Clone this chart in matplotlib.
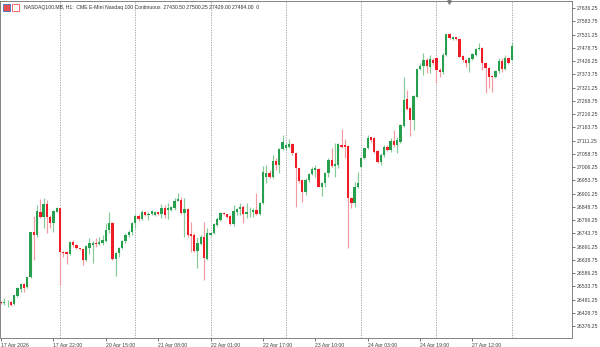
import matplotlib
matplotlib.use("Agg")
import matplotlib.pyplot as plt
from matplotlib.patches import Rectangle
import numpy as np

plt.rcParams['font.family'] = ['Liberation Sans', 'DejaVu Sans']

# NASDAQ100.MB H1 candles
opens = [26471, 26467, 26470, 26473, 26462, 26496, 26523, 26542, 26530, 26569,
         26748, 26737, 26829, 26807, 26860, 26810, 26786, 26829, 26843, 26671,
         26670, 26662, 26710, 26697, 26684, 26680, 26638, 26686, 26697, 26704,
         26700, 26705, 26713, 26757, 26786, 26641, 26664, 26686, 26713, 26737,
         26749, 26783, 26813, 26799, 26828, 26817, 26820, 26816, 26827, 26822,
         26845, 26836, 26836, 26843, 26872, 26876, 26823, 26839, 26740, 26737,
         26675, 26701, 26730, 26641, 26737, 26744, 26777, 26796, 26825, 26819,
         26812, 26779, 26829, 26839, 26849, 26820, 26827, 26827, 26836, 26820,
         26863, 26968, 26981, 26966, 27031, 27014, 27077, 27080, 27087, 27096,
         27061, 27001, 26954, 26909, 26954, 26977, 26995, 26997, 26928, 26942,
         26981, 27034, 27010, 27014, 27094, 27094, 27090, 26882, 26863, 26926,
         27008, 27041, 27080, 27124, 27120, 27070, 27027, 27054, 27087, 27074,
         27109, 27094, 27107, 27169, 27275, 27239, 27193, 27285, 27393, 27407,
         27430, 27404, 27430, 27440, 27391, 27381, 27450, 27532, 27514, 27520,
         27512, 27446, 27430, 27420, 27433, 27450, 27472, 27478, 27420, 27399,
         27367, 27362, 27388, 27426, 27393, 27438, 27430.5]
highs = [26475, 26487, 26479, 26477, 26500, 26531, 26546, 26546, 26570, 26750,
         26812, 26856, 26880, 26882, 26876, 26816, 26836, 26848, 26844, 26675,
         26674, 26713, 26717, 26701, 26687, 26683, 26697, 26726, 26713, 26726,
         26730, 26737, 26783, 26829, 26788, 26671, 26691, 26717, 26744, 26757,
         26790, 26820, 26820, 26836, 26832, 26828, 26836, 26832, 26830, 26860,
         26856, 26863, 26852, 26882, 26902, 26889, 26884, 26844, 26790, 26745,
         26730, 26737, 26790, 26765, 26749, 26785, 26808, 26829, 26829, 26822,
         26816, 26856, 26843, 26863, 26856, 26863, 26849, 26843, 26902, 26869,
         27010, 27014, 26995, 27054, 27041, 27080, 27133, 27101, 27116, 27100,
         27063, 27004, 26956, 26962, 26983, 27008, 27014, 27001, 26948, 26988,
         27041, 27080, 27100, 27100, 27156, 27116, 27094, 26889, 26948, 26988,
         27047, 27083, 27133, 27126, 27126, 27074, 27061, 27094, 27094, 27120,
         27153, 27126, 27177, 27362, 27311, 27245, 27292, 27397, 27417, 27459,
         27437, 27450, 27437, 27443, 27397, 27457, 27535, 27536, 27527, 27523,
         27516, 27450, 27433, 27441, 27457, 27477, 27496, 27482, 27424, 27401,
         27371, 27391, 27437, 27437, 27450, 27442, 27500.25]
lows = [26462, 26460, 26452, 26456, 26460, 26492, 26512, 26512, 26527, 26566,
        26638, 26730, 26804, 26763, 26745, 26765, 26749, 26828, 26539, 26651,
        26622, 26658, 26691, 26680, 26678, 26618, 26634, 26662, 26626, 26691,
        26697, 26697, 26708, 26744, 26638, 26576, 26651, 26682, 26704, 26730,
        26737, 26765, 26792, 26796, 26812, 26796, 26816, 26812, 26816, 26803,
        26803, 26799, 26832, 26836, 26870, 26822, 26730, 26729, 26671, 26670,
        26606, 26697, 26559, 26638, 26733, 26741, 26773, 26792, 26816, 26806,
        26777, 26774, 26816, 26816, 26783, 26803, 26810, 26810, 26816, 26816,
        26860, 26942, 26962, 26962, 26995, 26981, 27074, 27074, 27082, 27054,
        26849, 26943, 26867, 26895, 26947, 26975, 26968, 26926, 26891, 26928,
        26968, 27008, 26968, 27002, 27080, 27041, 26684, 26843, 26849, 26922,
        27005, 27038, 27077, 27107, 27061, 27023, 27014, 27047, 27070, 27067,
        27087, 27063, 27103, 27166, 27232, 27129, 27153, 27284, 27391, 27371,
        27380, 27378, 27411, 27338, 27364, 27374, 27448, 27512, 27508, 27508,
        27441, 27421, 27404, 27384, 27430, 27447, 27470, 27391, 27298, 27318,
        27305, 27359, 27378, 27384, 27391, 27414, 27429]
closes = [26466, 26473, 26473, 26460, 26498, 26527, 26542, 26526, 26569, 26748,
          26737, 26832, 26807, 26860, 26810, 26786, 26832, 26843, 26671, 26664,
          26662, 26710, 26697, 26684, 26680, 26638, 26693, 26704, 26704, 26700,
          26708, 26717, 26757, 26786, 26641, 26664, 26687, 26713, 26737, 26750,
          26783, 26813, 26799, 26828, 26817, 26822, 26832, 26829, 26820, 26845,
          26816, 26843, 26847, 26873, 26878, 26823, 26839, 26737, 26733, 26675,
          26704, 26730, 26645, 26745, 26746, 26779, 26800, 26823, 26819, 26810,
          26779, 26832, 26840, 26849, 26820, 26829, 26830, 26836, 26820, 26865,
          26987, 26981, 26968, 27031, 27014, 27077, 27107, 27094, 27096, 27061,
          27001, 26951, 26909, 26955, 26977, 26997, 27001, 26928, 26944, 26984,
          27034, 27010, 27018, 27098, 27087, 27087, 26882, 26863, 26926, 26942,
          27043, 27080, 27120, 27113, 27067, 27027, 27054, 27087, 27074, 27109,
          27094, 27113, 27173, 27272, 27235, 27193, 27288, 27393, 27408, 27430,
          27408, 27433, 27417, 27392, 27381, 27450, 27532, 27516, 27521, 27512,
          27443, 27429, 27420, 27437, 27453, 27473, 27478, 27417, 27399, 27364,
          27362, 27388, 27426, 27393, 27437, 27418, 27484]

time_labels = ["17 Apr 2026", "17 Apr 22:00", "20 Apr 15:00", "21 Apr 08:00",
               "22 Apr 01:00", "22 Apr 17:00", "23 Apr 10:00", "24 Apr 03:00",
               "24 Apr 19:00", "27 Apr 12:00"]
header = ("NASDAQ100.MB, H1:  CME E-Mini Nasdaq 100 Continuous  "
          "27430.50 27500.25 27429.00 27484.00  0")

o = np.array(opens, dtype=float)
h = np.array(highs, dtype=float)
l = np.array(lows, dtype=float)
c = np.array(closes, dtype=float)
x = np.arange(len(o))
up = c >= o

green = '#26a04e'
red = '#ee1c24'

fig = plt.figure(figsize=(6, 3.47), dpi=100)
ax = fig.add_axes([0, 9.5 / 347, 572 / 600, 336.5 / 347])

# grid every 23 bars, dotted
for gx in range(18, len(o), 23):
    ax.axvline(gx, color='#9a9a9a', linewidth=0.6, linestyle=(0, (1.5, 1.5)), zorder=0)

wick_cols = np.where(up, '#84cb98', '#f09aa0')
ax.vlines(x, l, h, colors=wick_cols, linewidth=0.85, zorder=1)
body = np.maximum(np.abs(c - o), 2.0)
ax.bar(x, body, bottom=np.minimum(o, c), width=0.7,
       color=np.where(up, green, red), linewidth=0, zorder=2)

ax.set_xlim(-0.33, 174.4)
ax.set_ylim(26330.8, 27664)

ax.yaxis.tick_right()
ax.set_yticks(np.arange(26376.25, 27640, 52.5))
ax.yaxis.set_major_formatter(matplotlib.ticker.FormatStrFormatter('%.2f'))
ax.tick_params(axis='y', direction='out', length=2.5, width=0.5, pad=1,
               labelsize=3.7, colors='#404040')

ax.set_xticks(range(0, 16 * len(time_labels), 16))
ax.set_xticklabels(time_labels, ha='left')
ax.tick_params(axis='x', direction='out', length=2.5, width=0.5, pad=1.5,
               labelsize=3.7, colors='#404040')

for s in ax.spines.values():
    s.set_color('#707070')
    s.set_linewidth(0.6)

# header with the two little MT5 icons
fig.patches.append(Rectangle((3 / 600, 1 - 11 / 347), 7 / 600, 7 / 347,
                             transform=fig.transFigure, facecolor='#e85050',
                             edgecolor='#3a6cc8', linewidth=0.6))
fig.patches.append(Rectangle((12 / 600, 1 - 11 / 347), 7 / 600, 7 / 347,
                             transform=fig.transFigure, facecolor='#ffffff',
                             edgecolor='#e85050', linewidth=0.6))
fig.text(24 / 600, 1 - 7.5 / 347, header, fontsize=3.7, va='center', color='#303030')

ax.plot([449 / 572], [0.997], marker='v', markersize=2.5, color='#808080',
        transform=ax.transAxes, clip_on=False)

fig.savefig('out.png', dpi=100)
